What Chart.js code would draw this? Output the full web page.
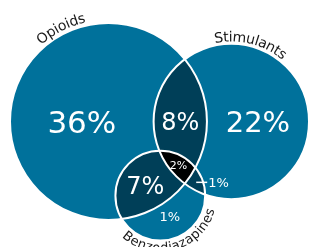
<!DOCTYPE html>
<html><head><meta charset="utf-8">
<script src="https://cdn.jsdelivr.net/npm/chart.js@4.4.1/dist/chart.umd.min.js"></script>
<style>html,body{margin:0;padding:0;background:#fff;overflow:hidden}canvas{display:block}</style>
</head><body>
<canvas id="c" width="310" height="247"></canvas>
<script>
// ---- data ----
const setNames = ['Opioids', 'Stimulants', 'Benzodiazapines'];
const regionSets = [[0], [1], [2], [0, 1], [0, 2], [1, 2], [0, 1, 2]];
const regionValues = [36, 22, 1, 8, 7, 1, 2];
const regionLabels = regionValues.map(v => v + '%');
const overlapPairs = [[0, 1], [0, 2], [1, 2]];
const drawnOverlaps = [8, 6.2, 1.5]; // pairwise overlap areas as drawn in the figure

// ---- styles / layout ----
const setFill = '#00719b';
const pairFill = '#003f58';
const tripleFill = '#000000';
const outline = '#ffffff';
const fontFamily = '"DejaVu Sans", sans-serif';
const regionFont = [31, 29, 13, 24, 24, 13, 11];
const regionLeader = [null, null, null, null, null, [11, 0], null];
const setLabelAngle = [243, 284, 74];
const setLabelGap = [7, 6, 8];
const setLabelFont = [14, 14, 13];
const setLabelTopOut = [true, true, false];
const fit = {left: 10, right: 309, top: 23, width: 310, height: 247};

// ---- area-proportional layout computed from the data ----
const setSizes = setNames.map((_, i) =>
  regionSets.reduce((s, sets, k) => sets.includes(i) ? s + regionValues[k] : s, 0));
const radii = setSizes.map(v => Math.sqrt(v / Math.PI));
function lensArea(r1, r2, d) {
  if (d >= r1 + r2) return 0;
  if (d <= Math.abs(r1 - r2)) return Math.PI * Math.min(r1, r2) ** 2;
  const a1 = r1 * r1 * Math.acos((d * d + r1 * r1 - r2 * r2) / (2 * d * r1));
  const a2 = r2 * r2 * Math.acos((d * d + r2 * r2 - r1 * r1) / (2 * d * r2));
  const t = 0.5 * Math.sqrt((-d + r1 + r2) * (d + r1 - r2) * (d - r1 + r2) * (d + r1 + r2));
  return a1 + a2 - t;
}
function solveDistance(r1, r2, area) {
  let lo = Math.abs(r1 - r2), hi = r1 + r2;
  for (let k = 0; k < 80; k++) {
    const mid = (lo + hi) / 2;
    if (lensArea(r1, r2, mid) > area) lo = mid; else hi = mid;
  }
  return (lo + hi) / 2;
}
const dist = overlapPairs.map(([i, j], k) => solveDistance(radii[i], radii[j], drawnOverlaps[k]));
const [dOS, dOB, dSB] = dist;
const bx = (dOB * dOB - dSB * dSB + dOS * dOS) / (2 * dOS);
const by = -Math.sqrt(Math.max(0, dOB * dOB - bx * bx));
const centers = [[0, 0], [dOS, 0], [bx, by]];

const minX = Math.min(...centers.map((c, i) => c[0] - radii[i]));
const maxX = Math.max(...centers.map((c, i) => c[0] + radii[i]));
const minY = Math.min(...centers.map((c, i) => c[1] - radii[i]));
const maxY = Math.max(...centers.map((c, i) => c[1] + radii[i]));
const ppu = (fit.right - fit.left) / (maxX - minX);
const xMin = minX - fit.left / ppu, xMax = xMin + fit.width / ppu;
const yMax = maxY + fit.top / ppu, yMin = yMax - fit.height / ppu;

// ---- label anchor points from region membership ----
function memberMask(x, y) {
  let m = 0;
  centers.forEach((c, i) => { if (Math.hypot(x - c[0], y - c[1]) < radii[i]) m |= 1 << i; });
  return m;
}
const regionMasks = regionSets.map(s => s.reduce((m, i) => m | (1 << i), 0));
const axisY = centers[0][1];
const sums = {};
const g = 0.012;
for (let x = minX; x <= maxX; x += g) {
  for (let y = minY; y <= maxY; y += g) {
    const m = memberMask(x, y);
    if (!m) continue;
    const s = sums[m] || (sums[m] = [0, 0, 0]);
    s[0] += x; s[1] += y; s[2] += 1;
  }
}
const labelPoints = regionMasks.map(mask => {
  let lo = Infinity, hi = -Infinity;
  for (let x = minX; x <= maxX; x += 0.004) {
    if (memberMask(x, axisY) === mask) { lo = Math.min(lo, x); hi = Math.max(hi, x); }
  }
  if (lo < hi) return [(lo + hi) / 2, axisY];
  const s = sums[mask];
  return s ? [s[0] / s[2], s[1] / s[2]] : null;
});

function radiusPx(chart, r) {
  const s = chart.scales.x;
  return Math.abs(s.getPixelForValue(r) - s.getPixelForValue(0));
}
function pixelCircles(chart) {
  return centers.map((c, i) => ({
    x: chart.scales.x.getPixelForValue(c[0]),
    y: chart.scales.y.getPixelForValue(c[1]),
    r: radiusPx(chart, radii[i])
  }));
}
function circlePath(ctx, p) { ctx.beginPath(); ctx.arc(p.x, p.y, p.r, 0, Math.PI * 2); }

function drawArcText(ctx, text, cx, cy, R, centerDeg, clockwise) {
  const dir = clockwise ? 1 : -1;
  const total = ctx.measureText(text).width;
  let ang = centerDeg * Math.PI / 180 - dir * total / (2 * R);
  for (const ch of text) {
    const w = ctx.measureText(ch).width;
    const a = ang + dir * w / (2 * R);
    ctx.save();
    ctx.translate(cx + R * Math.cos(a), cy + R * Math.sin(a));
    ctx.rotate(clockwise ? a + Math.PI / 2 : a - Math.PI / 2);
    ctx.fillText(ch, 0, 0);
    ctx.restore();
    ang += dir * w / R;
  }
}

const vennPlugin = {
  id: 'venn',
  beforeDatasetDraw(chart, args) {
    if (args.index !== 1) return;
    const ctx = chart.ctx, P = pixelCircles(chart);
    regionSets.forEach(sets => {
      if (sets.length < 2) return;
      ctx.save();
      sets.slice(0, -1).forEach(i => { circlePath(ctx, P[i]); ctx.clip(); });
      circlePath(ctx, P[sets[sets.length - 1]]);
      ctx.fillStyle = sets.length === 2 ? pairFill : tripleFill;
      ctx.fill();
      ctx.restore();
    });
  },
  afterDatasetsDraw(chart) {
    const ctx = chart.ctx, P = pixelCircles(chart);
    ctx.save();
    ctx.textAlign = 'center';
    ctx.textBaseline = 'alphabetic';
    regionLabels.forEach((lab, k) => {
      const pt = labelPoints[k];
      if (!pt) return;
      const x = chart.scales.x.getPixelForValue(pt[0]);
      const y = chart.scales.y.getPixelForValue(pt[1]);
      const fs = regionFont[k];
      const yb = y + fs * 0.365;
      ctx.fillStyle = '#ffffff';
      ctx.font = fs + 'px ' + fontFamily;
      const lead = regionLeader[k];
      if (lead) {
        ctx.strokeStyle = '#ffffff';
        ctx.lineWidth = 1.5;
        ctx.beginPath(); ctx.moveTo(x, y); ctx.lineTo(x + lead[0], y + lead[1]); ctx.stroke();
        ctx.textAlign = 'left';
        ctx.fillText(lab, x + lead[0] + 1, yb + lead[1]);
        ctx.textAlign = 'center';
      } else {
        ctx.fillText(lab, x, yb);
      }
    });
    ctx.fillStyle = '#1a1a1a';
    ctx.textBaseline = 'middle';
    setNames.forEach((name, i) => {
      ctx.font = setLabelFont[i] + 'px ' + fontFamily;
      drawArcText(ctx, name, P[i].x, P[i].y, P[i].r + setLabelGap[i], setLabelAngle[i], setLabelTopOut[i]);
    });
    ctx.restore();
  }
};

const circleData = centers.map(([x, y]) => ({x, y}));
new Chart(document.getElementById('c'), {
  type: 'scatter',
  data: {
    datasets: [
      {data: circleData, order: 2, pointRadius: c => radiusPx(c.chart, radii[c.dataIndex]),
       pointBackgroundColor: setFill, pointBorderWidth: 0, pointBorderColor: setFill},
      {data: circleData, order: 1, pointRadius: c => radiusPx(c.chart, radii[c.dataIndex]),
       pointBackgroundColor: 'rgba(0,0,0,0)', pointBorderColor: outline, pointBorderWidth: 2}
    ]
  },
  options: {
    responsive: false,
    animation: false,
    events: [],
    layout: {padding: 0, autoPadding: false},
    scales: {
      x: {type: 'linear', min: xMin, max: xMax, display: false, bounds: 'data'},
      y: {type: 'linear', min: yMin, max: yMax, display: false, bounds: 'data'}
    },
    plugins: {legend: {display: false}, tooltip: {enabled: false}}
  },
  plugins: [vennPlugin]
});
</script>
</body></html>
